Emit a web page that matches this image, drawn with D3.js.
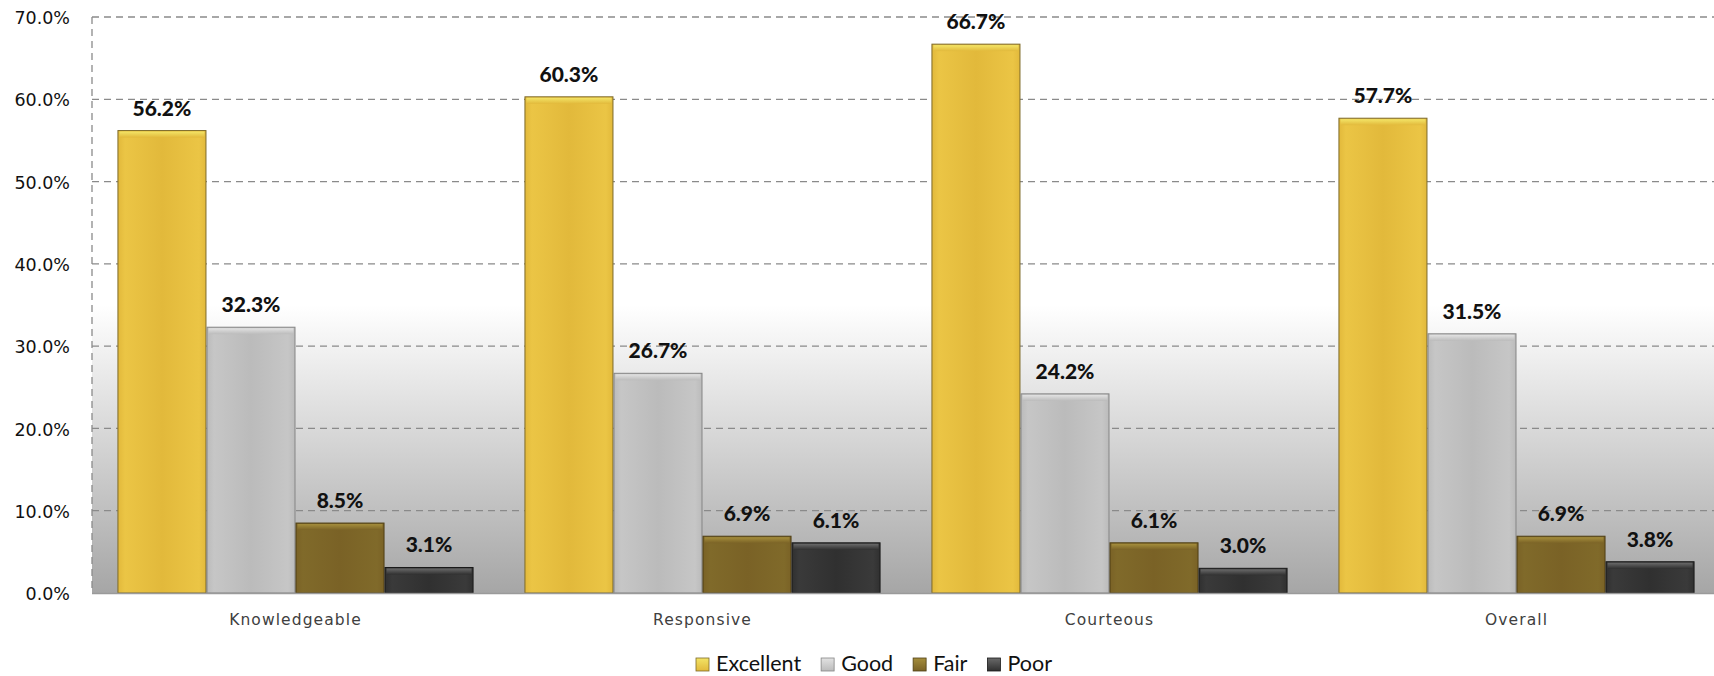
<!DOCTYPE html>
<html>
<head>
<meta charset="utf-8">
<script src="https://cdn.jsdelivr.net/npm/d3@7"></script>
<style>
  html, body { margin: 0; padding: 0; background: #ffffff; overflow: hidden; }
  svg { display: block; }
</style>
</head>
<body>
<svg id="chart" width="1714" height="676"></svg>
<script>
const categories = ["Knowledgeable", "Responsive", "Courteous", "Overall"];
const seriesNames = ["Excellent", "Good", "Fair", "Poor"];
const excellent = [56.2, 60.3, 66.7, 57.7];
const good = [32.3, 26.7, 24.2, 31.5];
const fair = [8.5, 6.9, 6.1, 6.9];
const poor = [3.1, 6.1, 3.0, 3.8];
const yTicks = [0, 10, 20, 30, 40, 50, 60, 70];

const seriesValues = [excellent, good, fair, poor];
const seriesStyle = [
  { base: "#E2B93B", light: "#F3E466", dark: "#EBC545", stroke: "#7d6a2a" },
  { base: "#BBBBBB", light: "#E2E2E2", dark: "#C6C6C6", stroke: "#858585" },
  { base: "#7A6226", light: "#A58E3C", dark: "#806A2A", stroke: "#4f3f14" },
  { base: "#303030", light: "#6a6a6a", dark: "#3a3a3a", stroke: "#1a1a1a" }
];

const plotLeft = 92, plotRight = 1720, plotTop = 17, plotBottom = 593;

const svg = d3.select("#chart");
const defs = svg.append("defs");

const bg = defs.append("linearGradient").attr("id", "bgGrad")
  .attr("x1", 0).attr("y1", 0).attr("x2", 0).attr("y2", 1);
bg.append("stop").attr("offset", "0").attr("stop-color", "#ffffff");
bg.append("stop").attr("offset", "0.5").attr("stop-color", "#ffffff");
bg.append("stop").attr("offset", "1").attr("stop-color", "#a6a6a6");

seriesStyle.forEach((s, i) => {
  const g = defs.append("linearGradient").attr("id", "barGrad" + i)
    .attr("x1", 0).attr("y1", 0).attr("x2", 1).attr("y2", 0);
  g.append("stop").attr("offset", "0").attr("stop-color", s.base);
  g.append("stop").attr("offset", "0.08").attr("stop-color", s.dark);
  g.append("stop").attr("offset", "0.5").attr("stop-color", s.base);
  g.append("stop").attr("offset", "0.92").attr("stop-color", s.dark);
  g.append("stop").attr("offset", "1").attr("stop-color", s.base);
  const t = defs.append("linearGradient").attr("id", "topGrad" + i)
    .attr("x1", 0).attr("y1", 0).attr("x2", 0).attr("y2", 1);
  t.append("stop").attr("offset", "0").attr("stop-color", s.light);
  t.append("stop").attr("offset", "1").attr("stop-color", s.base);
});

const x0 = d3.scaleBand().domain(categories).range([plotLeft, plotRight])
  .paddingInner(0.125).paddingOuter(0.0625);
const x1 = d3.scaleBand().domain(seriesNames).range([0, x0.bandwidth()]).padding(0);
const y = d3.scaleLinear().domain([0, 70]).range([plotBottom, plotTop]);

// plot background
svg.append("rect")
  .attr("x", plotLeft).attr("y", plotTop)
  .attr("width", plotRight - plotLeft).attr("height", plotBottom - plotTop)
  .attr("fill", "url(#bgGrad)");

// gridlines
svg.append("g").selectAll("line").data(yTicks.filter(d => d > 0)).join("line")
  .attr("x1", plotLeft).attr("x2", plotRight)
  .attr("y1", d => y(d)).attr("y2", d => y(d))
  .attr("stroke", "#8a8a8a").attr("stroke-width", 1.3)
  .attr("stroke-dasharray", "7,5");

// left axis dashed line
svg.append("line")
  .attr("x1", plotLeft).attr("x2", plotLeft).attr("y1", plotTop).attr("y2", plotBottom)
  .attr("stroke", "#8a8a8a").attr("stroke-width", 1.3)
  .attr("stroke-dasharray", "7,5");

// y tick labels
const yAxis = d3.axisLeft(y).tickValues(yTicks).tickSize(0).tickPadding(0)
  .tickFormat(d => d.toFixed(1) + "%");
const yg = svg.append("g").attr("transform", `translate(${plotLeft - 22},0)`).call(yAxis);
yg.select(".domain").remove();
yg.selectAll("text")
  .attr("font-family", "'DejaVu Sans', sans-serif")
  .attr("font-size", 17.5).attr("fill", "#111").attr("dy", "0.38em");

// bars
const groups = svg.append("g").selectAll("g").data(categories).join("g")
  .attr("transform", d => `translate(${x0(d)},0)`);

groups.each(function(cat, ci) {
  const g = d3.select(this);
  const data = seriesNames.map((s, si) => ({ s, si, v: seriesValues[si][ci] }));
  g.selectAll("rect.bar").data(data).join("rect").attr("class", "bar")
    .attr("x", d => x1(d.s) + 0.5)
    .attr("y", d => y(d.v))
    .attr("width", x1.bandwidth() - 1)
    .attr("height", d => y(0) - y(d.v))
    .attr("fill", d => `url(#barGrad${d.si})`)
    .attr("stroke", d => seriesStyle[d.si].stroke)
    .attr("stroke-width", 1);
  g.selectAll("rect.cap").data(data).join("rect").attr("class", "cap")
    .attr("x", d => x1(d.s) + 2)
    .attr("y", d => y(d.v) + 1)
    .attr("width", x1.bandwidth() - 4)
    .attr("height", 6)
    .attr("fill", d => `url(#topGrad${d.si})`);
  g.selectAll("text.lbl").data(data).join("text").attr("class", "lbl")
    .attr("x", d => x1(d.s) + x1.bandwidth() / 2)
    .attr("y", d => y(d.v) - 15)
    .attr("text-anchor", "middle")
    .attr("font-family", "Lato, 'Open Sans', sans-serif")
    .attr("font-weight", "900")
    .attr("font-size", 21)
    .attr("fill", "#111")
    .text(d => d.v.toFixed(1) + "%");
});

// bottom axis line
svg.append("line")
  .attr("x1", plotLeft).attr("x2", plotRight).attr("y1", plotBottom + 0.5).attr("y2", plotBottom + 0.5)
  .attr("stroke", "#9a9a9a").attr("stroke-width", 1.5);

// category labels
const xAxis = d3.axisBottom(x0).tickSize(0).tickPadding(0);
const xg = svg.append("g").attr("transform", `translate(0,${plotBottom})`).call(xAxis);
xg.select(".domain").remove();
xg.selectAll("text")
  .attr("y", 32).attr("dy", 0)
  .attr("font-family", "'DejaVu Sans', sans-serif")
  .attr("font-size", 15.5).attr("letter-spacing", "1.1px")
  .attr("fill", "#404040");

// legend
const legend = svg.append("g");
const items = legend.selectAll("g").data(seriesNames).join("g");
items.append("rect")
  .attr("width", 13).attr("height", 13).attr("y", -13)
  .attr("fill", (d, i) => `url(#topGrad${i})`)
  .attr("stroke", (d, i) => seriesStyle[i].stroke).attr("stroke-width", 0.8);
items.append("text")
  .attr("x", 20).attr("y", 0)
  .attr("font-family", "Lato, 'Open Sans', sans-serif")
  .attr("font-size", 21.5).attr("fill", "#111")
  .text(d => d);
let cx = 0;
const positions = [];
items.each(function() {
  const w = 20 + this.querySelector("text").getComputedTextLength();
  positions.push(cx);
  cx += w + 20;
});
const totalW = cx - 20;
const startX = 874 - totalW / 2;
items.attr("transform", (d, i) => `translate(${startX + positions[i]},671)`);
</script>
</body>
</html>
